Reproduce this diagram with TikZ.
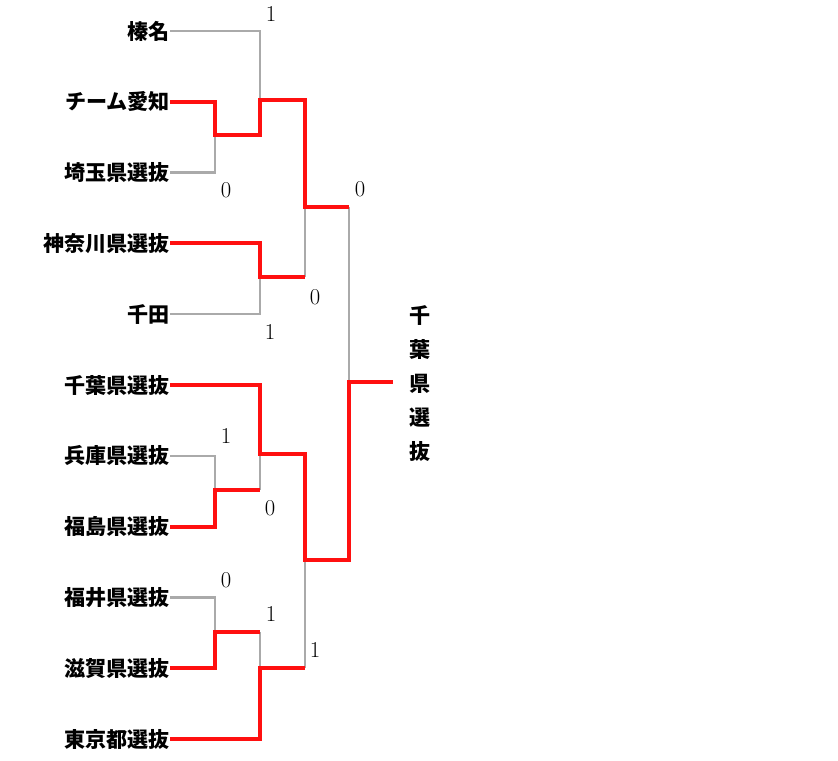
\documentclass[tikz,border=0pt]{standalone}
\usepackage{fontspec}
\usepackage{tikz}
\newfontfamily\jpfont{Noto Sans CJK JP}
\definecolor{winred}{RGB}{255,16,16}
\definecolor{losegray}{RGB}{170,170,170}

\begin{document}
\begin{tikzpicture}[x=0.75pt, y=-0.75pt,
	team/.style={anchor=east, inner sep=0pt,
		font=\jpfont\bfseries\fontsize{15.8}{15.8}\selectfont},
	score/.style={inner sep=0pt, font=\fontsize{17}{17}\selectfont},
	line win/.style={draw=winred, line width=3pt},
	line lose/.style={draw=losegray, line width=1.8pt}]

		\useasboundingbox (0,0) rectangle (838,760);

		% Teams
		\foreach \name [count=\i] in {榛名, チーム愛知, 埼玉県選抜, 神奈川県選抜,
			千田, 千葉県選抜, 兵庫県選抜, 福島県選抜, 福井県選抜, 滋賀県選抜, 東京都選抜}
			\node [team] (team-\i) at (170, {31+70.8*(\i-1)}) {\name};

		% Matches
		\coordinate (match-1) at (215,135);
		\coordinate (match-2) at (260,100);
		\coordinate (match-3) at (260,277);
		\coordinate (match-4) at (305,207);
		\coordinate (match-5) at (215,490);
		\coordinate (match-6) at (260,454);
		\coordinate (match-7) at (215,632);
		\coordinate (match-8) at (260,668);
		\coordinate (match-9) at (305,560);
		\coordinate (match-10) at (349,382);
		\coordinate (champ-end) at (393,382);

		% Winner
		\node [team, anchor=center, align=center,
			font=\jpfont\bfseries\fontsize{15.8}{25.5}\selectfont] (champ) at (420,384) {
			千\\葉\\県\\選\\抜
		};

		% Lost lines
		\foreach \t/\m in {1/2, 3/1, 5/3, 7/5, 9/7}
			\draw [line lose] (team-\t.east) -| (match-\m);
		\foreach \a/\b in {3/4, 5/6, 7/8, 8/9, 4/10}
			\draw [line lose] (match-\a -| match-\b) -- (match-\b);

		% Won lines
		\draw [line win] (team-2.east) -| (match-1) -| (match-2) -| (match-4)
			-- (match-4 -| match-10);
		\draw [line win] (team-6.east) -| (match-6) -| (match-9) -| (match-10)
			-- (champ-end);
		\foreach \t/\a/\b in {4/3/4, 8/5/6, 10/7/8, 11/8/9}
			\draw [line win] (team-\t.east) -| (match-\a) -- (match-\a -| match-\b);

		% Scores
		\foreach \x/\y/\s [count=\i] in {271/14/1, 226/190/0, 360/189/0, 315/297/0,
			270/332/1, 226/436/1, 270/508/0, 226/580/0, 271/614/1, 315/650/1}
			\node [score] (score-\i) at (\x,\y) {\s};

\end{tikzpicture}
\end{document}
